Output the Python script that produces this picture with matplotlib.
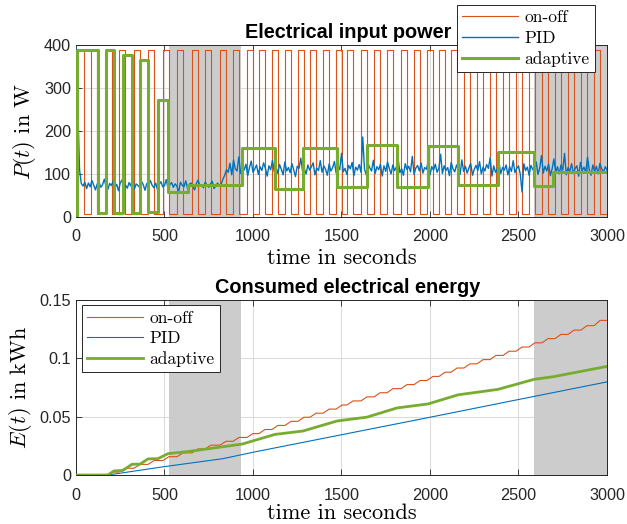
import numpy as np
import matplotlib
matplotlib.use("Agg")
import matplotlib.pyplot as plt

plt.rcParams['mathtext.fontset'] = 'cm'
plt.rcParams['font.family'] = ['Liberation Sans', 'DejaVu Sans']

c_onoff = '#D95319'
c_pid = '#0072BD'
c_adapt = '#77AC30'

# gray disturbance windows (s)
shade = [(525, 932), (2590, 3000)]

# on-off controller: heater on intervals (s) and power levels (W)
on_start = [0, 85, 169, 243, 328, 407, 491, 571, 655, 729, 814, 887, 966, 1034,
            1107, 1181, 1254, 1322, 1396, 1469, 1531, 1610, 1684, 1757, 1836,
            1910, 1983, 2051, 2119, 2192, 2266, 2339, 2413, 2486, 2559, 2633,
            2706, 2780, 2853, 2927]
on_end = [45, 120, 203, 277, 362, 441, 525, 605, 689, 763, 848, 921, 1000, 1068,
          1141, 1215, 1288, 1356, 1430, 1503, 1565, 1644, 1718, 1791, 1870,
          1944, 2017, 2085, 2153, 2226, 2300, 2373, 2447, 2520, 2593, 2667,
          2740, 2814, 2887, 2961]
p_on = 388
p_off = 8

# PID power, one value every 10 s from 0 to 3000 s
pid_power = [
    395, 260, 110, 78, 72, 81, 66, 79, 70, 85, 74, 63, 77, 82, 69, 75, 88, 71, 64, 78,
    73, 84, 68, 76, 61, 79, 86, 70, 74, 67, 80, 72, 91, 65, 77, 73, 69, 83, 75, 62,
    78, 71, 85, 74, 68, 79, 64, 76, 82, 70, 73, 87, 66, 75, 80, 69, 77, 72, 58, 81,
    74, 70, 84, 67, 76, 79, 71, 63, 78, 86, 72, 75, 68, 81, 74, 69, 77, 83, 66, 73,
    79, 71, 76, 88, 97, 110, 104, 125, 98, 132, 112, 107, 140, 101, 118, 109, 123, 96, 115, 130,
    104, 112, 121, 99, 117, 108, 126, 113, 95, 119, 110, 132, 105, 116, 101, 122, 111, 98, 128, 107,
    115, 103, 124, 110, 94, 118, 113, 137, 106, 112, 100, 121, 109, 117, 126, 98, 114, 108, 131, 104,
    119, 111, 97, 123, 107, 115, 129, 102, 118, 110, 148, 105, 113, 99, 120, 112, 127, 96, 116, 109,
    122, 104, 186, 111, 98, 125, 114, 107, 132, 101, 117, 110, 123, 95, 119, 106, 128, 113, 100, 121,
    108, 116, 135, 103, 112, 97, 124, 110, 118, 105, 141, 99, 114, 120, 107, 126, 102, 115, 111, 130,
    98, 117, 109, 123, 104, 113, 146, 101, 119, 108, 115, 96, 127, 112, 105, 121, 110, 99, 133, 106,
    118, 102, 114, 125, 97, 111, 120, 108, 129, 100, 116, 107, 122, 113, 138, 95, 119, 104, 112, 126,
    101, 115, 109, 121, 98, 117, 106, 131, 103, 113, 119, 100, 58, 124, 108, 116, 97, 120, 111, 105,
    128, 99, 114, 143, 102, 118, 107, 123, 96, 112, 135, 104, 117, 100, 121, 109, 148, 98, 115, 106,
    124, 101, 113, 119, 95, 127, 108, 116, 103, 139, 110, 97, 121, 106, 118, 100, 125, 112, 104, 117,
    109]

# adaptive controller: switching times (s) and power levels (W)
adapt_t = [0, 3, 124, 170, 215, 265, 316, 362, 407, 463, 520, 633, 938, 1124,
           1282, 1475, 1644, 1814, 1989, 2158, 2384, 2588, 2695, 3000]
adapt_p = [0, 388, 9, 388, 9, 376, 9, 364, 11, 271, 58, 75, 161, 66,
           161, 70, 168, 70, 166, 75, 152, 72, 105, 105]

# consumed energy (kWh)
e_start = 180
onoff_e_end = [0.0025, 0.0058, 0.0091, 0.0124, 0.0157, 0.0190, 0.0223, 0.0256,
               0.0289, 0.0322, 0.0355, 0.0390, 0.0425, 0.0460, 0.0495, 0.0530,
               0.0565, 0.0600, 0.0635, 0.0670, 0.0705, 0.0740, 0.0775, 0.0810,
               0.0845, 0.0881, 0.0917, 0.0953, 0.0989, 0.1025, 0.1061, 0.1097,
               0.1133, 0.1169, 0.1205, 0.1242, 0.1280, 0.1325]
pid_e_t = [0, 180, 500, 830, 1000, 1500, 2000, 2500, 3000]
pid_e = [0, 0, 0.0072, 0.0140, 0.0195, 0.0345, 0.0495, 0.0647, 0.0798]
adapt_e_t = [0, 180, 215, 265, 316, 362, 407, 463, 520, 633, 938, 1124, 1282,
             1475, 1644, 1814, 1989, 2158, 2384, 2588, 2695, 3000]
adapt_e = [0, 0, 0.0035, 0.0039, 0.0092, 0.0093, 0.0138, 0.0140, 0.0183,
           0.0201, 0.0265, 0.0348, 0.0377, 0.0463, 0.0496, 0.0575, 0.0609,
           0.0687, 0.0734, 0.0820, 0.0842, 0.0931]

# build on-off curves
t_on, p_line = [0], [p_on]
for i, (s, e) in enumerate(zip(on_start, on_end)):
    if i > 0:
        t_on += [s, s]
        p_line += [p_off, p_on]
    t_on += [e, e]
    p_line += [p_on, p_off]
t_on.append(3000)
p_line.append(p_off)

counted = [(s, e) for s, e in zip(on_start, on_end) if e > e_start]
et_on, e_on = [0, e_start], [0, 0]
prev = 0
for (s, e), val in zip(counted, onoff_e_end):
    et_on += [max(s, e_start), e]
    e_on += [prev, val]
    prev = val
et_on.append(3000)
e_on.append(prev)

pid_t = np.arange(len(pid_power)) * 10

fig = plt.figure(figsize=(6.27, 5.24), dpi=100)
ax1 = fig.add_axes([0.1212, 0.5859, 0.8469, 0.3282])
ax2 = fig.add_axes([0.1212, 0.0935, 0.8469, 0.3340])

label_font = dict(family='cmr10', size=16)
leg_kw = dict(borderaxespad=0, prop=dict(family='cmr10', size=12.5),
              handlelength=3.2, handletextpad=0.4, labelspacing=0.3,
              borderpad=0.3, fancybox=False, framealpha=1, edgecolor='#262626')


def style(ax):
    ax.set_xlim(0, 3000)
    ax.set_xticks(np.arange(0, 3001, 500))
    ax.grid(True, color='#DCDCDC', linewidth=0.8)
    ax.set_axisbelow(True)
    ax.tick_params(direction='in', length=4, top=True, right=True,
                   labelsize=11.7, colors='#262626', width=0.6)
    ax.tick_params(axis='x', pad=9)
    for sp in ax.spines.values():
        sp.set_color('#262626')
        sp.set_linewidth(0.7)
    for a, b in shade:
        ax.axvspan(a, b, color='#CCCCCC', zorder=1, lw=0)


# top: electrical input power
style(ax1)
ax1.plot(t_on, p_line, color=c_onoff, lw=0.8, label='on-off', zorder=3)
ax1.plot(pid_t, pid_power, color=c_pid, lw=1.0, label='PID', zorder=4)
ax1.step(adapt_t, adapt_p, where='post', color=c_adapt, lw=2.2, label='adaptive', zorder=5)
ax1.set_ylim(0, 400)
ax1.set_yticks(np.arange(0, 401, 100))
ax1.set_title('Electrical input power', fontsize=14.3, fontweight='bold', pad=5, x=0.512)
ax1.set_xlabel('time in seconds', labelpad=3, **label_font)
ax1.set_ylabel(r'$P(t)$ in W', labelpad=4, **label_font)
leg1 = ax1.legend(loc='upper right', bbox_to_anchor=(0.977, 1.233), **leg_kw)
leg1.get_frame().set_linewidth(0.7)
leg1.set_zorder(10)

# bottom: consumed electrical energy
style(ax2)
ax2.plot(et_on, e_on, color=c_onoff, lw=0.8, label='on-off', zorder=3)
ax2.plot(pid_e_t, pid_e, color=c_pid, lw=0.8, label='PID', zorder=4)
ax2.plot(adapt_e_t, adapt_e, color=c_adapt, lw=2.0, label='adaptive', zorder=5)
ax2.set_ylim(0, 0.15)
ax2.set_yticks([0, 0.05, 0.1, 0.15])
ax2.set_yticklabels(['0', '0.05', '0.1', '0.15'])
ax2.set_title('Consumed electrical energy', fontsize=14.3, fontweight='bold', pad=5, x=0.512)
ax2.set_xlabel('time in seconds', labelpad=1, **label_font)
ax2.set_ylabel(r'$E(t)$ in kWh', labelpad=4, **label_font)
leg2 = ax2.legend(loc='upper left', bbox_to_anchor=(0.011, 0.971), **leg_kw)
leg2.get_frame().set_linewidth(0.7)

fig.savefig('out.png', dpi=100)
